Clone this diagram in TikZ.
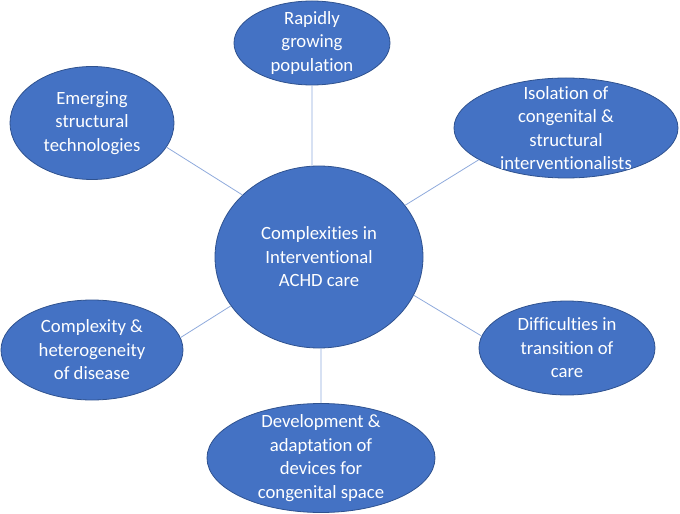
\documentclass[tikz,border=0pt]{standalone}
\usepackage{fontspec}
\setmainfont[Ligatures=NoCommon, Contextuals=NoAlternate]{Carlito}
\usetikzlibrary{shapes.geometric}
\definecolor{achdblue}{HTML}{4472C4}
\definecolor{achdrim}{HTML}{2F528F}
\definecolor{achdline}{HTML}{8FAADC}
\tikzset{
bubble/.style={draw=achdrim, fill=achdblue, ellipse, inner sep=0pt, line width=0.8bp}, % the blue ellipses
btext/.style={text=white, align=center, inner sep=0pt, font=\fontsize{18.7bp}{23.5bp}\selectfont}, % white text inside them
spoke/.style={draw=achdline, line width=0.8bp}, % thin connectors
}

\begin{document}
\begin{tikzpicture}[x=1bp,y=-1bp]
    \useasboundingbox (0,0) rectangle (680,514);
    \node[bubble, minimum width=208bp, minimum height=182bp, label={[btext]center:{Complexities in\\Interventional\\ACHD care}}] at (319,257) (care) {};
    \node[bubble, minimum width=156bp, minimum height=84bp, label={[btext]center:{Rapidly\\growing\\population}}] at (312,43) (growth) {};
    \node[bubble, minimum width=224bp, minimum height=100bp, label={[btext]center:{Isolation of\\congenital \&\\structural\\interventionalists}}] at (566,128) (isolation) {};
    \node[bubble, minimum width=164bp, minimum height=113bp, label={[btext]center:{Emerging\\structural\\technologies}}] at (92,123) (tech) {};
    \node[bubble, minimum width=182bp, minimum height=100bp, label={[btext]center:{Complexity \&\\heterogeneity\\of disease}}] at (92,350) (disease) {};
    \node[bubble, minimum width=228bp, minimum height=109bp, label={[btext]center:{Development \&\\adaptation of\\devices for\\congenital space}}] at (321,458) (devices) {};
    \node[bubble, minimum width=176bp, minimum height=94bp, label={[btext]center:{Difficulties in\\transition of\\care}}] at (567,348) (transition) {};
    \draw[spoke]
    (growth.south) -- (care.north -| growth.south)
    (devices.north) -- (care.south -| devices.north)
    (care.141) -- (tech.-18)
    (care.31) -- (isolation.200)
    (care.209) -- (disease.8)
    (care.-22) -- (transition.172)
    ;
\end{tikzpicture}
\end{document}
